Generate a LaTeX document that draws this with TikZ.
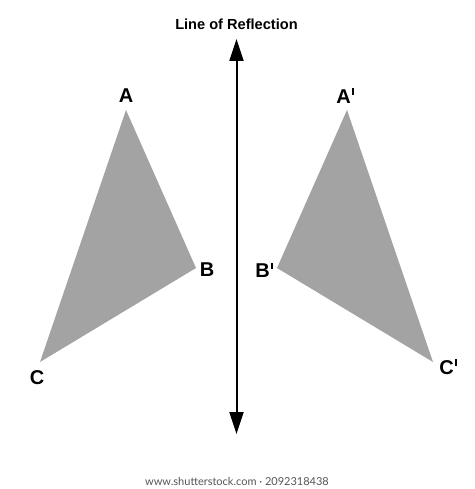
\documentclass[tikz,border=0pt]{standalone}
\usepackage{fontspec}
\setmainfont{Liberation Sans}
\newfontfamily\capfont{Lato}
\usetikzlibrary{arrows.meta}
\definecolor{trigray}{HTML}{A3A3A3}
\definecolor{captiongray}{HTML}{555555}
\newcommand{\prm}{\hspace{1.2pt}\rule[8.5pt]{1.6pt}{6.5pt}}
\begin{document}
\begin{tikzpicture}[x=1pt,y=-1pt,
  tri/.style={fill=trigray,draw=none},
  vlabel/.style={font=\fontsize{20pt}{20pt}\selectfont\bfseries,inner sep=0pt},
  axis/.style={line width=2pt,{Triangle[length=22pt,width=14pt]}-{Triangle[length=22pt,width=14pt]}}]
\useasboundingbox (0,0) rectangle (474,489);
\fill[white] (0,0) rectangle (474,489);
% left triangle
\coordinate (A) at (126,110);
\coordinate (B) at (196,268);
\coordinate (C) at (40,362);
\fill[tri] (A) -- (B) -- (C) -- cycle;
% right triangle
\coordinate (A2) at (347,110);
\coordinate (B2) at (277,268);
\coordinate (C2) at (433,362);
\fill[tri] (A2) -- (B2) -- (C2) -- cycle;
% axis
\coordinate (top) at (236.5,39);
\coordinate (bot) at (236.5,434);
\draw[axis] (bot) -- (top);
\node[font=\fontsize{14.6pt}{14.6pt}\selectfont\bfseries,inner sep=0pt] (title) at (236.5,24) {Line of Reflection};
% labels
\node[vlabel] (lA) at (126,96) {A};
\node[vlabel] (lB) at (207,270) {B};
\node[vlabel] (lC) at (37,378) {C};
\node[vlabel] (lA2) at (345,96) {A\prm};
\node[vlabel] (lB2) at (264,270) {B\prm};
\node[vlabel] (lC2) at (448,367) {C\prm};
% caption
\node[font=\capfont\fontsize{11pt}{11pt}\selectfont,text=captiongray,inner sep=0pt] (cap) at (237,481) {www.shutterstock.com · 2092318438};
\end{tikzpicture}
\end{document}
